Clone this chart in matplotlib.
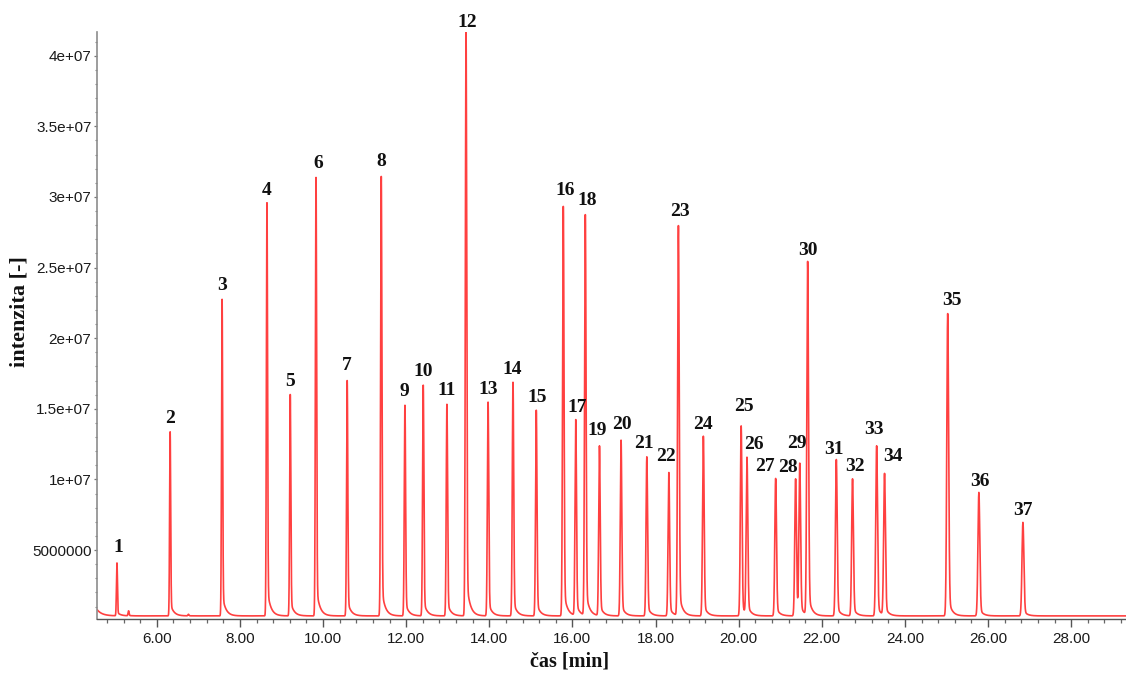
import numpy as np
import matplotlib
matplotlib.use("Agg")
import matplotlib.pyplot as plt
from matplotlib.ticker import MultipleLocator, FuncFormatter

# ---- chromatogram data -------------------------------------------------------
peak_ids = list(range(1, 38))
retention_min = [5.04, 6.32, 7.57, 8.65, 9.21, 9.83, 10.58, 11.40, 11.97, 12.41,
                 12.98, 13.44, 13.97, 14.57, 15.13, 15.78, 16.08, 16.31, 16.65, 17.17,
                 17.79, 18.32, 18.55, 19.15, 20.06, 20.20, 20.89, 21.37, 21.47, 21.66,
                 22.35, 22.74, 23.32, 23.51, 25.03, 25.78, 26.84]
peak_intensity = [4.08e6, 1.337e7, 2.275e7, 2.959e7, 1.601e7, 3.138e7, 1.70e7, 3.145e7, 1.525e7, 1.667e7,
                  1.532e7, 4.17e7, 1.547e7, 1.688e7, 1.49e7, 2.933e7, 1.419e7, 2.869e7, 1.235e7, 1.278e7,
                  1.160e7, 1.049e7, 2.793e7, 1.306e7, 1.379e7, 1.141e7, 1.007e7, 1.004e7, 1.096e7, 2.535e7,
                  1.141e7, 1.004e7, 1.238e7, 1.035e7, 2.174e7, 9.08e6, 6.96e6]

# small unlabelled peaks
minor_peak_min = [5.32, 6.76]
minor_peak_intensity = [0.69e6, 0.45e6]

baseline_level = 0.34e6
solvent_tail = 0.45e6

y_ticks = [5e6, 1e7, 1.5e7, 2e7, 2.5e7, 3e7, 3.5e7, 4e7]
x_ticks = [6, 8, 10, 12, 14, 16, 18, 20, 22, 24, 26, 28]

# label placement relative to each peak apex (pixels)
label_offsets_px = [(1, 16), (0, 13), (0, 14), (0, 12), (0, 13), (2, 14), (0, 15), (0, 15), (-1, 14), (0, 14),
                    (0, 14), (1, 9), (0, 13), (-1, 13), (1, 13), (2, 16), (1, 13), (2, 15), (-2, 16), (1, 16),
                    (-3, 13), (-3, 16), (2, 15), (0, 12), (3, 19), (7, 15), (-11, 12), (-8, 11), (-3, 22), (0, 12),
                    (-2, 10), (2, 12), (-3, 16), (8, 18), (4, 13), (1, 11), (0, 12)]

X_MIN, X_MAX = 4.56, 29.32
Y_MIN, Y_MAX = 0.12e6, 4.17e7


def peak_shape(t, t0, sigma, tail_frac=0.07, tau=0.08):
    """Gaussian apex with an exponential tail, normalised to 1 at t0."""
    dt = t - t0
    g = np.exp(-0.5 * (dt / sigma) ** 2)
    tail = np.exp(-np.clip(dt, 0, None) / tau)
    return np.where(dt < 0, g, (1 - tail_frac) * g + tail_frac * tail)


t = np.arange(X_MIN, X_MAX, 0.0005)
signal = baseline_level + solvent_tail * np.exp(-(t - X_MIN) / 0.12)
for t0, h in zip(retention_min + minor_peak_min, peak_intensity + minor_peak_intensity):
    sigma = 0.012 + 0.0005 * (t0 - 5.0)
    signal = signal + (h - baseline_level) * peak_shape(t, t0, sigma)

# ---- figure ------------------------------------------------------------------
plt.rcParams['font.family'] = ['Liberation Sans', 'DejaVu Sans']

fig = plt.figure(figsize=(11.26, 6.73), dpi=100)
ax = fig.add_axes([97 / 1126, 54 / 673, 1029 / 1126, 587.3 / 673])

ax.plot(t, signal, color='#ff2b2b', lw=1.2, alpha=0.9, clip_on=True)

for pid, t0, h, (dx, dy) in zip(peak_ids, retention_min, peak_intensity, label_offsets_px):
    ax.annotate(str(pid), xy=(t0, h), xytext=(dx, dy), textcoords='offset pixels',
                ha='center', va='center', fontsize=14, fontweight='bold',
                family=['Liberation Serif', 'DejaVu Serif'], color='#111111',
                annotation_clip=False)

ax.set_xlim(X_MIN, X_MAX)
ax.set_ylim(Y_MIN, Y_MAX)

ax.set_xticks(x_ticks)
ax.xaxis.set_major_formatter(FuncFormatter(lambda v, _: f"{v:.2f}"))
ax.xaxis.set_minor_locator(MultipleLocator(0.4))
ax.set_yticks(y_ticks)
ax.yaxis.set_major_formatter(FuncFormatter(lambda v, _: f"{v:g}" if v >= 1e7 else f"{v:.0f}"))
ax.yaxis.set_minor_locator(MultipleLocator(1e6))

ax.tick_params(axis='x', which='major', length=5.5, width=1.0, color='#555555',
               labelsize=11, labelcolor='#1a1a1a', pad=4)
ax.tick_params(axis='x', which='minor', length=3, width=0.9, color='#666666')
ax.tick_params(axis='y', which='major', length=2.5, width=0.9, color='#777777',
               labelsize=11, labelcolor='#1a1a1a', pad=1.5)
ax.tick_params(axis='y', which='minor', length=1.5, width=0.8, color='#888888')

for side in ('top', 'right'):
    ax.spines[side].set_visible(False)
ax.spines['left'].set_color('#8c8c8c')
ax.spines['left'].set_linewidth(1.2)
ax.spines['bottom'].set_color('#555555')
ax.spines['bottom'].set_linewidth(1.0)

label_font = dict(fontsize=14.5, fontweight='bold', family=['Liberation Serif', 'DejaVu Serif'],
                  color='#111111')
ax.set_xlabel('čas [min]', **label_font)
ax.xaxis.label.set_va('center')
ax.xaxis.set_label_coords(0.459, -0.073)

ax.set_ylabel('intenzita [-]', fontsize=16, fontweight='bold',
              family=['Liberation Serif', 'DejaVu Serif'], color='#111111')
ax.yaxis.label.set_va('center')
ax.yaxis.set_label_coords(-0.0758, 0.524)

fig.savefig('out.png', dpi=100, facecolor='white')
